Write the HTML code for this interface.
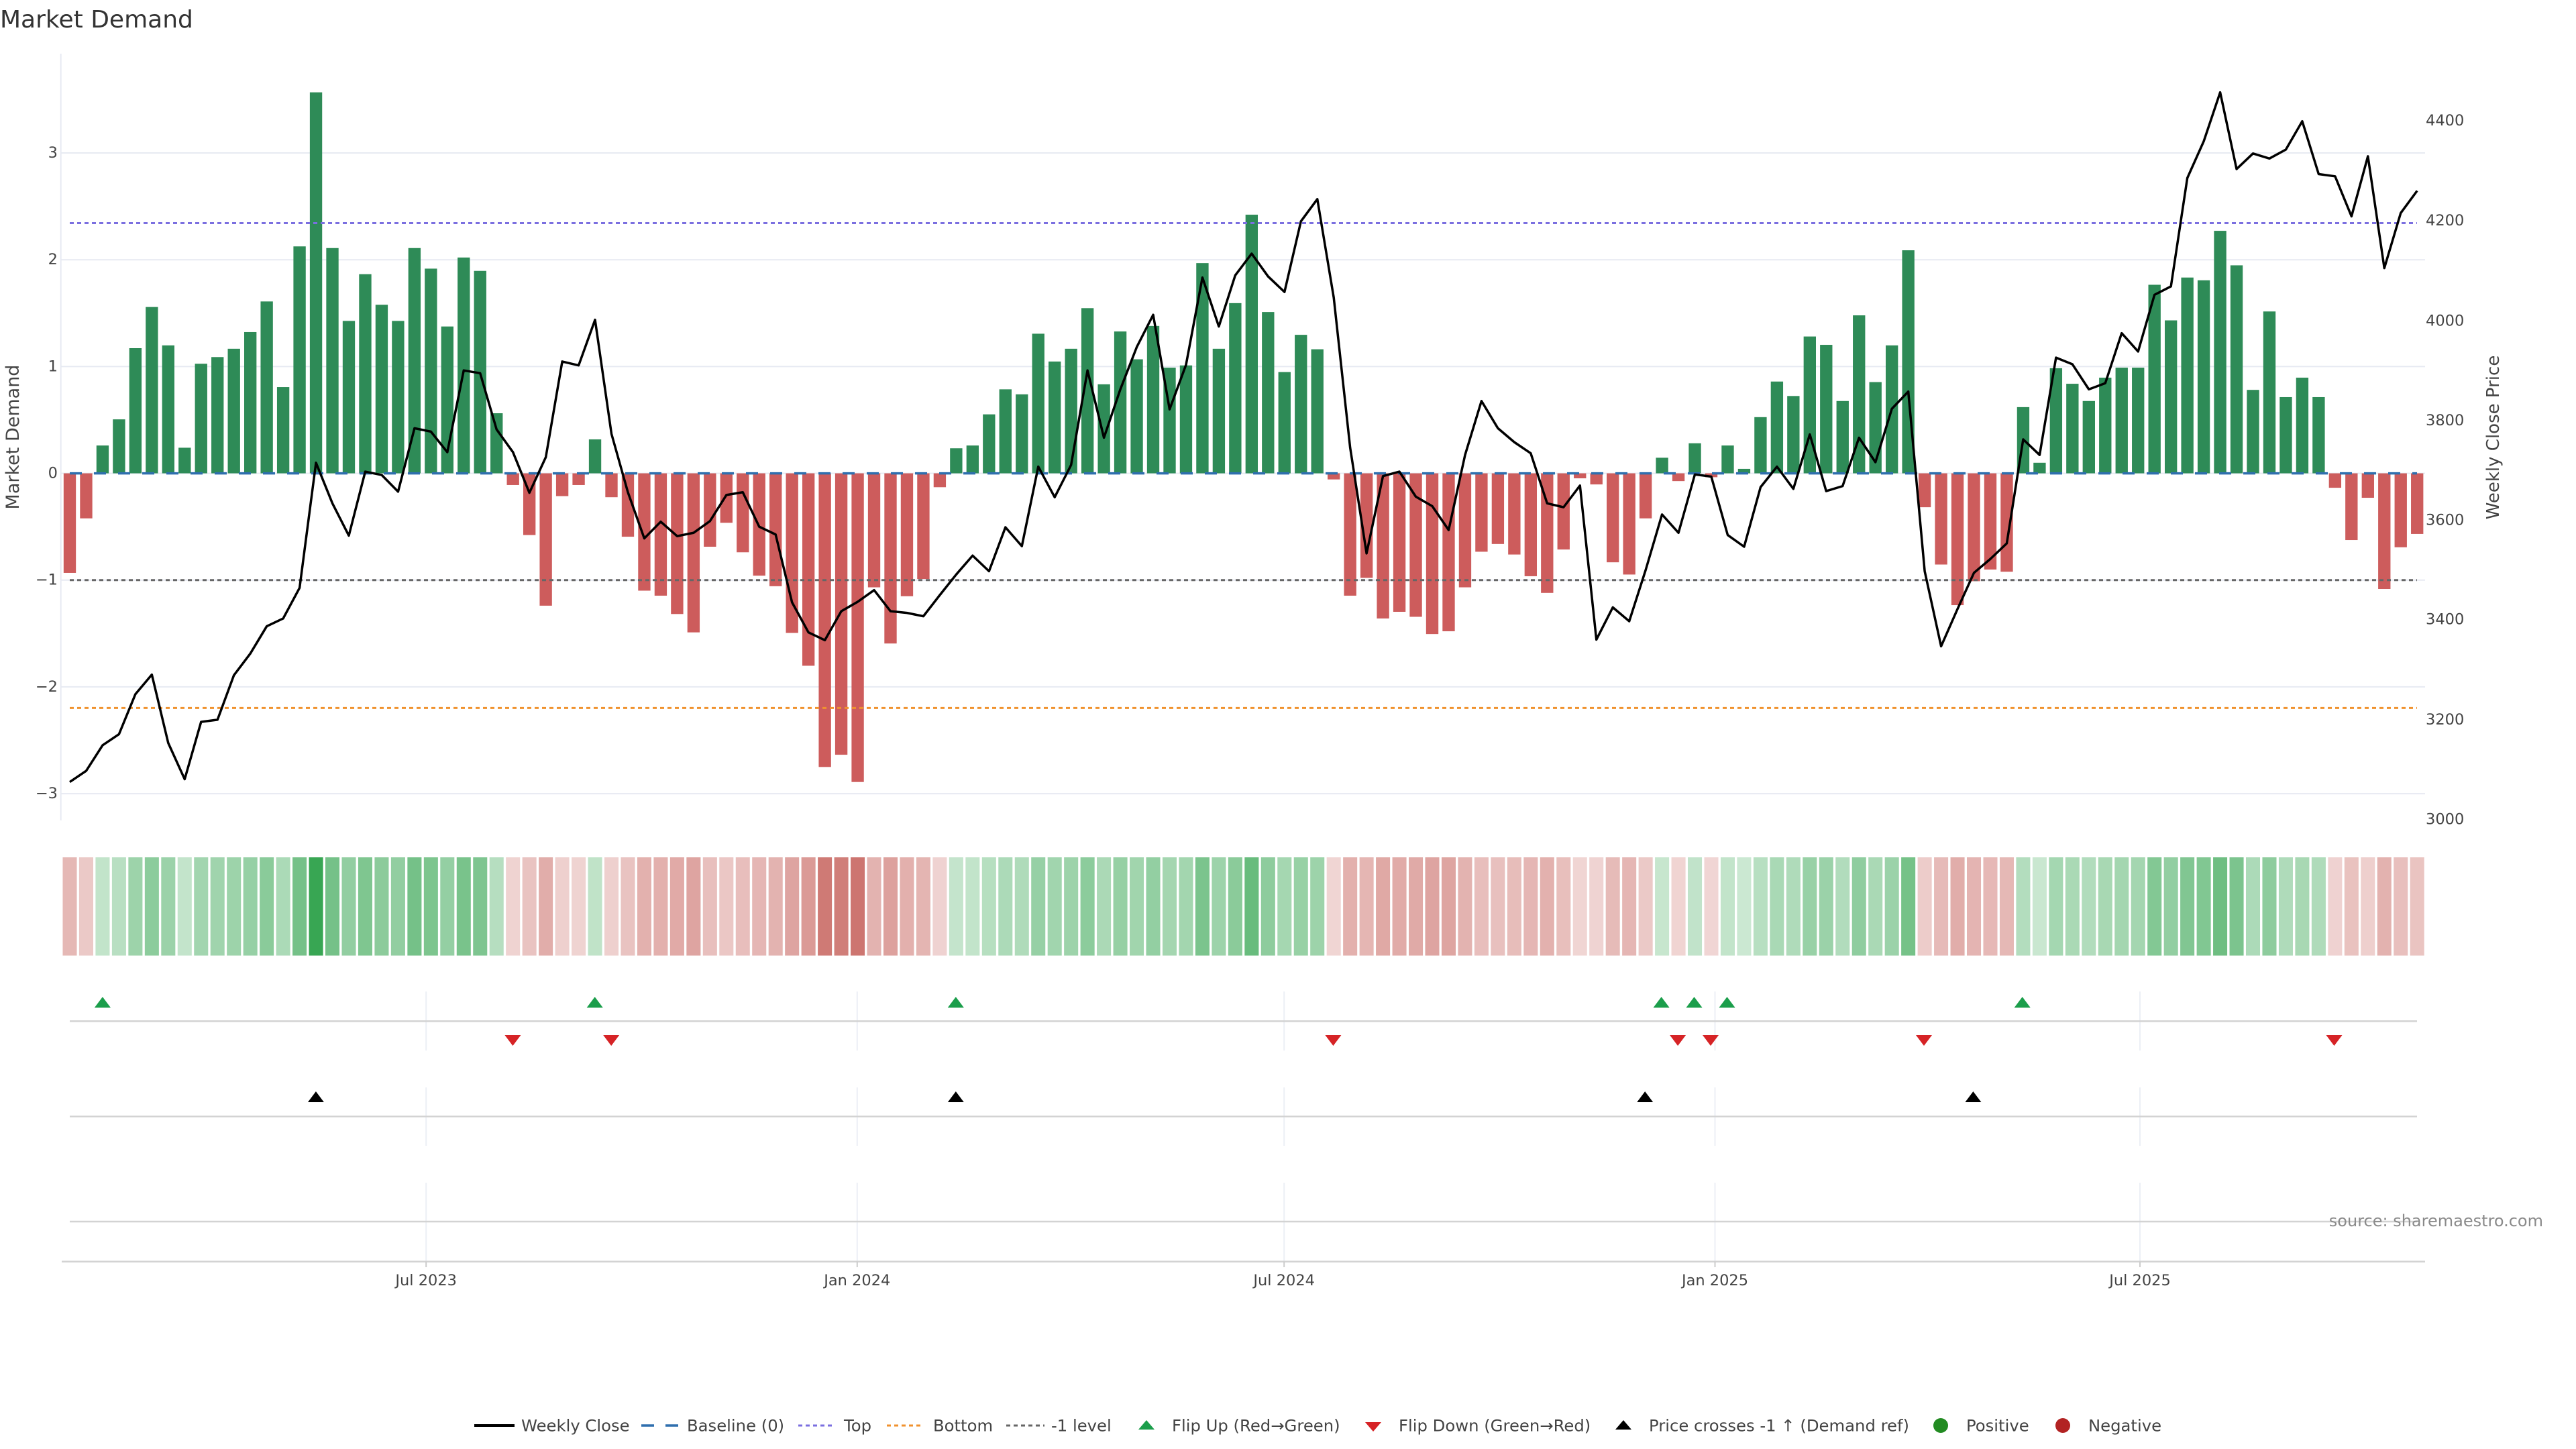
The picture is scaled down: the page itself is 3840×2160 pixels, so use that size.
<!DOCTYPE html>
<html><head><meta charset="utf-8"><style>
html,body{margin:0;padding:0;background:#fff;}
svg{display:block;font-family:"DejaVu Sans","Liberation Sans",sans-serif;}
</style></head><body>
<svg width="3840" height="2160" viewBox="0 0 3840 2160" xmlns="http://www.w3.org/2000/svg">
<rect width="3840" height="2160" fill="#fff"/>
<text x="0" y="41" font-size="36" fill="#333">Market Demand</text>
<g stroke="#e7eaf2" stroke-width="2">
<line x1="91" y1="228" x2="3615" y2="228"/><line x1="91" y1="387.2" x2="3615" y2="387.2"/><line x1="91" y1="546.4" x2="3615" y2="546.4"/><line x1="91" y1="705.6" x2="3615" y2="705.6"/><line x1="91" y1="864.7" x2="3615" y2="864.7"/><line x1="91" y1="1023.9" x2="3615" y2="1023.9"/><line x1="91" y1="1183.1" x2="3615" y2="1183.1"/>
<line x1="90.7" y1="80" x2="90.7" y2="1223"/>
</g>
<g font-size="22.5" fill="#444" text-anchor="end" dominant-baseline="central">
<text x="86" y="228">3</text><text x="86" y="387.2">2</text><text x="86" y="546.4">1</text><text x="86" y="705.6">0</text><text x="86" y="864.7">−1</text><text x="86" y="1023.9">−2</text><text x="86" y="1183.1">−3</text>
</g>
<g font-size="22.5" fill="#444" dominant-baseline="central">
<text x="3616" y="180">4400</text><text x="3616" y="329.2">4200</text><text x="3616" y="478.4">4000</text><text x="3616" y="626.9">3800</text><text x="3616" y="775.3">3600</text><text x="3616" y="923.7">3400</text><text x="3616" y="1073">3200</text><text x="3616" y="1221.4">3000</text>
</g>
<text transform="translate(28,651.5) rotate(-90)" text-anchor="middle" font-size="27" fill="#444">Market Demand</text>
<text transform="translate(3725,652) rotate(-90)" text-anchor="middle" font-size="26" fill="#444">Weekly Close Price</text>
<g transform="translate(104,0) scale(24.47,0.829085)">
<g fill="#2e8b57">
<rect x="1.625" y="801" width="0.75" height="50"/><rect x="2.625" y="754" width="0.75" height="97"/><rect x="3.625" y="626" width="0.75" height="225"/><rect x="4.625" y="552" width="0.75" height="299"/><rect x="5.625" y="621" width="0.75" height="230"/><rect x="6.625" y="805" width="0.75" height="46"/><rect x="7.625" y="654" width="0.75" height="197"/><rect x="8.625" y="642" width="0.75" height="209"/><rect x="9.625" y="627" width="0.75" height="224"/><rect x="10.625" y="597" width="0.75" height="254"/><rect x="11.625" y="542" width="0.75" height="309"/><rect x="12.625" y="696" width="0.75" height="155"/><rect x="13.625" y="443" width="0.75" height="408"/><rect x="14.625" y="166" width="0.75" height="685"/><rect x="15.625" y="446" width="0.75" height="405"/><rect x="16.625" y="577" width="0.75" height="274"/><rect x="17.625" y="493" width="0.75" height="358"/><rect x="18.625" y="548" width="0.75" height="303"/><rect x="19.625" y="577" width="0.75" height="274"/><rect x="20.625" y="446" width="0.75" height="405"/><rect x="21.625" y="483" width="0.75" height="368"/><rect x="22.625" y="587" width="0.75" height="264"/><rect x="23.625" y="463" width="0.75" height="388"/><rect x="24.625" y="487" width="0.75" height="364"/><rect x="25.625" y="743" width="0.75" height="108"/>
<rect x="31.625" y="790" width="0.75" height="61"/>
<rect x="53.625" y="806" width="0.75" height="45"/><rect x="54.625" y="801" width="0.75" height="50"/><rect x="55.625" y="745" width="0.75" height="106"/><rect x="56.625" y="700" width="0.75" height="151"/><rect x="57.625" y="709" width="0.75" height="142"/><rect x="58.625" y="600" width="0.75" height="251"/><rect x="59.625" y="650" width="0.75" height="201"/><rect x="60.625" y="627" width="0.75" height="224"/><rect x="61.625" y="554" width="0.75" height="297"/><rect x="62.625" y="691" width="0.75" height="160"/><rect x="63.625" y="596" width="0.75" height="255"/><rect x="64.625" y="646" width="0.75" height="205"/><rect x="65.625" y="586" width="0.75" height="265"/><rect x="66.625" y="661" width="0.75" height="190"/><rect x="67.625" y="657" width="0.75" height="194"/><rect x="68.625" y="473" width="0.75" height="378"/><rect x="69.625" y="627" width="0.75" height="224"/><rect x="70.625" y="545" width="0.75" height="306"/><rect x="71.625" y="386" width="0.75" height="465"/><rect x="72.625" y="561" width="0.75" height="290"/><rect x="73.625" y="669" width="0.75" height="182"/><rect x="74.625" y="602" width="0.75" height="249"/><rect x="75.625" y="628" width="0.75" height="223"/>
<rect x="96.625" y="823" width="0.75" height="28"/><rect x="98.625" y="797" width="0.75" height="54"/><rect x="100.625" y="801" width="0.75" height="50"/><rect x="101.625" y="843" width="0.75" height="8"/><rect x="102.625" y="750" width="0.75" height="101"/><rect x="103.625" y="686" width="0.75" height="165"/><rect x="104.625" y="712" width="0.75" height="139"/><rect x="105.625" y="605" width="0.75" height="246"/><rect x="106.625" y="620" width="0.75" height="231"/><rect x="107.625" y="721" width="0.75" height="130"/><rect x="108.625" y="567" width="0.75" height="284"/><rect x="109.625" y="687" width="0.75" height="164"/><rect x="110.625" y="621" width="0.75" height="230"/><rect x="111.625" y="450" width="0.75" height="401"/>
<rect x="118.625" y="732" width="0.75" height="119"/><rect x="119.625" y="832" width="0.75" height="19"/><rect x="120.625" y="662" width="0.75" height="189"/><rect x="121.625" y="690" width="0.75" height="161"/><rect x="122.625" y="721" width="0.75" height="130"/><rect x="123.625" y="679" width="0.75" height="172"/><rect x="124.625" y="661" width="0.75" height="190"/><rect x="125.625" y="661" width="0.75" height="190"/><rect x="126.625" y="512" width="0.75" height="339"/><rect x="127.625" y="576" width="0.75" height="275"/><rect x="128.625" y="499" width="0.75" height="352"/><rect x="129.625" y="504" width="0.75" height="347"/><rect x="130.625" y="415" width="0.75" height="436"/><rect x="131.625" y="477" width="0.75" height="374"/><rect x="132.625" y="701" width="0.75" height="150"/><rect x="133.625" y="560" width="0.75" height="291"/><rect x="134.625" y="714" width="0.75" height="137"/><rect x="135.625" y="679" width="0.75" height="172"/><rect x="136.625" y="714" width="0.75" height="137"/>
</g>
<g fill="#cd5c5c">
<rect x="-0.375" y="851" width="0.75" height="179"/><rect x="0.625" y="851" width="0.75" height="81"/>
<rect x="26.625" y="851" width="0.75" height="21"/><rect x="27.625" y="851" width="0.75" height="111"/><rect x="28.625" y="851" width="0.75" height="238"/><rect x="29.625" y="851" width="0.75" height="41"/><rect x="30.625" y="851" width="0.75" height="21"/>
<rect x="32.625" y="851" width="0.75" height="43"/><rect x="33.625" y="851" width="0.75" height="114"/><rect x="34.625" y="851" width="0.75" height="211"/><rect x="35.625" y="851" width="0.75" height="220"/><rect x="36.625" y="851" width="0.75" height="253"/><rect x="37.625" y="851" width="0.75" height="286"/><rect x="38.625" y="851" width="0.75" height="132"/><rect x="39.625" y="851" width="0.75" height="89"/><rect x="40.625" y="851" width="0.75" height="142"/><rect x="41.625" y="851" width="0.75" height="184"/><rect x="42.625" y="851" width="0.75" height="203"/><rect x="43.625" y="851" width="0.75" height="287"/><rect x="44.625" y="851" width="0.75" height="346"/><rect x="45.625" y="851" width="0.75" height="528"/><rect x="46.625" y="851" width="0.75" height="506"/><rect x="47.625" y="851" width="0.75" height="555"/><rect x="48.625" y="851" width="0.75" height="205"/><rect x="49.625" y="851" width="0.75" height="306"/><rect x="50.625" y="851" width="0.75" height="221"/><rect x="51.625" y="851" width="0.75" height="190"/><rect x="52.625" y="851" width="0.75" height="25"/>
<rect x="76.625" y="851" width="0.75" height="11"/><rect x="77.625" y="851" width="0.75" height="220"/><rect x="78.625" y="851" width="0.75" height="188"/><rect x="79.625" y="851" width="0.75" height="261"/><rect x="80.625" y="851" width="0.75" height="249"/><rect x="81.625" y="851" width="0.75" height="258"/><rect x="82.625" y="851" width="0.75" height="289"/><rect x="83.625" y="851" width="0.75" height="284"/><rect x="84.625" y="851" width="0.75" height="205"/><rect x="85.625" y="851" width="0.75" height="141"/><rect x="86.625" y="851" width="0.75" height="127"/><rect x="87.625" y="851" width="0.75" height="146"/><rect x="88.625" y="851" width="0.75" height="185"/><rect x="89.625" y="851" width="0.75" height="215"/><rect x="90.625" y="851" width="0.75" height="137"/><rect x="91.625" y="851" width="0.75" height="9"/><rect x="92.625" y="851" width="0.75" height="20"/><rect x="93.625" y="851" width="0.75" height="160"/><rect x="94.625" y="851" width="0.75" height="182"/><rect x="95.625" y="851" width="0.75" height="81"/>
<rect x="97.625" y="851" width="0.75" height="14"/><rect x="99.625" y="851" width="0.75" height="7"/>
<rect x="112.625" y="851" width="0.75" height="61"/><rect x="113.625" y="851" width="0.75" height="164"/><rect x="114.625" y="851" width="0.75" height="237"/><rect x="115.625" y="851" width="0.75" height="194"/><rect x="116.625" y="851" width="0.75" height="173"/><rect x="117.625" y="851" width="0.75" height="177"/>
<rect x="137.625" y="851" width="0.75" height="26"/><rect x="138.625" y="851" width="0.75" height="120"/><rect x="139.625" y="851" width="0.75" height="44"/><rect x="140.625" y="851" width="0.75" height="208"/><rect x="141.625" y="851" width="0.75" height="133"/><rect x="142.625" y="851" width="0.75" height="109"/>
</g>
</g>
<line x1="104" y1="705.6" x2="3603" y2="705.6" stroke="#2f6fae" stroke-width="3.5" stroke-dasharray="18 18"/>
<line x1="104" y1="332.5" x2="3603" y2="332.5" stroke="#7b6fe0" stroke-width="3" stroke-dasharray="6 5"/>
<line x1="104" y1="864.7" x2="3603" y2="864.7" stroke="#666" stroke-width="3" stroke-dasharray="6 5"/>
<line x1="104" y1="1055.4" x2="3603" y2="1055.4" stroke="#f0922e" stroke-width="3" stroke-dasharray="6 5"/>
<g transform="translate(104,0) scale(24.47,0.829085)">
<polyline fill="none" stroke="#000" stroke-width="3.5" stroke-linejoin="round" vector-effect="non-scaling-stroke" points="0,1406 1,1386 2,1340 3,1320 4,1248 5,1213 6,1336 7,1401 8,1298 9,1294 10,1214 11,1175 12,1126 13,1112 14,1057 15,832 16,905 17,963 18,848 19,854 20,884 21,770 22,776 23,813 24,666 25,671 26,772 27,813 28,886 29,822 30,650 31,657 32,575 33,780 34,885 35,968 36,938 37,964 38,958 39,937 40,890 41,885 42,947 43,961 44,1083 45,1137 46,1151 47,1099 48,1082 49,1061 50,1099 51,1102 52,1108 53,1070 54,1033 55,999 56,1027 57,948 58,982 59,839 60,894 61,836 62,666 63,787 64,700 65,624 66,566 67,736 68,656 69,499 70,587 71,495 72,456 73,497 74,525 75,398 76,358 77,535 78,805 79,995 80,856 81,848 82,893 83,910 84,953 85,818 86,721 87,770 88,795 89,815 90,905 91,912 92,873 93,1150 94,1092 95,1117 96,1025 97,925 98,958 99,853 100,857 101,962 102,983 103,876 104,839 105,879 106,781 107,883 108,874 109,787 110,831 111,735 112,704 113,1027 114,1162 115,1095 116,1030 117,1005 118,977 119,790 120,818 121,643 122,655 123,700 124,689 125,599 126,632 127,530 128,515 129,320 130,254 131,166 132,304 133,276 134,285 135,269 136,218 137,313 138,317 139,389 140,281 141,482 142,383 143,343"/>
</g>
<!-- heatmap -->
<g transform="translate(104,0) scale(24.47,1)">
<g fill="#38a653">
<rect x="1.57" y="1278" width="0.86" height="146.5" fill-opacity="0.305"/><rect x="2.57" y="1278" width="0.86" height="146.5" fill-opacity="0.356"/><rect x="3.57" y="1278" width="0.86" height="146.5" fill-opacity="0.496"/><rect x="4.57" y="1278" width="0.86" height="146.5" fill-opacity="0.578"/><rect x="5.57" y="1278" width="0.86" height="146.5" fill-opacity="0.502"/><rect x="6.57" y="1278" width="0.86" height="146.5" fill-opacity="0.300"/><rect x="7.57" y="1278" width="0.86" height="146.5" fill-opacity="0.466"/><rect x="8.57" y="1278" width="0.86" height="146.5" fill-opacity="0.479"/><rect x="9.57" y="1278" width="0.86" height="146.5" fill-opacity="0.496"/><rect x="10.57" y="1278" width="0.86" height="146.5" fill-opacity="0.527"/><rect x="11.57" y="1278" width="0.86" height="146.5" fill-opacity="0.588"/><rect x="12.57" y="1278" width="0.86" height="146.5" fill-opacity="0.420"/><rect x="13.57" y="1278" width="0.86" height="146.5" fill-opacity="0.696"/><rect x="14.57" y="1278" width="0.86" height="146.5" fill-opacity="1"/><rect x="15.57" y="1278" width="0.86" height="146.5" fill-opacity="0.693"/><rect x="16.57" y="1278" width="0.86" height="146.5" fill-opacity="0.550"/><rect x="17.57" y="1278" width="0.86" height="146.5" fill-opacity="0.642"/><rect x="18.57" y="1278" width="0.86" height="146.5" fill-opacity="0.582"/><rect x="19.57" y="1278" width="0.86" height="146.5" fill-opacity="0.550"/><rect x="20.57" y="1278" width="0.86" height="146.5" fill-opacity="0.693"/><rect x="21.57" y="1278" width="0.86" height="146.5" fill-opacity="0.653"/><rect x="22.57" y="1278" width="0.86" height="146.5" fill-opacity="0.539"/><rect x="23.57" y="1278" width="0.86" height="146.5" fill-opacity="0.674"/><rect x="24.57" y="1278" width="0.86" height="146.5" fill-opacity="0.649"/><rect x="25.57" y="1278" width="0.86" height="146.5" fill-opacity="0.368"/>
<rect x="31.57" y="1278" width="0.86" height="146.5" fill-opacity="0.317"/>
<rect x="53.57" y="1278" width="0.86" height="146.5" fill-opacity="0.298"/><rect x="54.57" y="1278" width="0.86" height="146.5" fill-opacity="0.305"/><rect x="55.57" y="1278" width="0.86" height="146.5" fill-opacity="0.366"/><rect x="56.57" y="1278" width="0.86" height="146.5" fill-opacity="0.416"/><rect x="57.57" y="1278" width="0.86" height="146.5" fill-opacity="0.405"/><rect x="58.57" y="1278" width="0.86" height="146.5" fill-opacity="0.525"/><rect x="59.57" y="1278" width="0.86" height="146.5" fill-opacity="0.471"/><rect x="60.57" y="1278" width="0.86" height="146.5" fill-opacity="0.496"/><rect x="61.57" y="1278" width="0.86" height="146.5" fill-opacity="0.576"/><rect x="62.57" y="1278" width="0.86" height="146.5" fill-opacity="0.424"/><rect x="63.57" y="1278" width="0.86" height="146.5" fill-opacity="0.529"/><rect x="64.57" y="1278" width="0.86" height="146.5" fill-opacity="0.475"/><rect x="65.57" y="1278" width="0.86" height="146.5" fill-opacity="0.540"/><rect x="66.57" y="1278" width="0.86" height="146.5" fill-opacity="0.458"/><rect x="67.57" y="1278" width="0.86" height="146.5" fill-opacity="0.462"/><rect x="68.57" y="1278" width="0.86" height="146.5" fill-opacity="0.664"/><rect x="69.57" y="1278" width="0.86" height="146.5" fill-opacity="0.496"/><rect x="70.57" y="1278" width="0.86" height="146.5" fill-opacity="0.584"/><rect x="71.57" y="1278" width="0.86" height="146.5" fill-opacity="0.758"/><rect x="72.57" y="1278" width="0.86" height="146.5" fill-opacity="0.567"/><rect x="73.57" y="1278" width="0.86" height="146.5" fill-opacity="0.450"/><rect x="74.57" y="1278" width="0.86" height="146.5" fill-opacity="0.523"/><rect x="75.57" y="1278" width="0.86" height="146.5" fill-opacity="0.494"/>
<rect x="96.57" y="1278" width="0.86" height="146.5" fill-opacity="0.282"/><rect x="98.57" y="1278" width="0.86" height="146.5" fill-opacity="0.309"/><rect x="100.57" y="1278" width="0.86" height="146.5" fill-opacity="0.305"/><rect x="101.57" y="1278" width="0.86" height="146.5" fill-opacity="0.258"/><rect x="102.57" y="1278" width="0.86" height="146.5" fill-opacity="0.361"/><rect x="103.57" y="1278" width="0.86" height="146.5" fill-opacity="0.431"/><rect x="104.57" y="1278" width="0.86" height="146.5" fill-opacity="0.401"/><rect x="105.57" y="1278" width="0.86" height="146.5" fill-opacity="0.519"/><rect x="106.57" y="1278" width="0.86" height="146.5" fill-opacity="0.502"/><rect x="107.57" y="1278" width="0.86" height="146.5" fill-opacity="0.393"/><rect x="108.57" y="1278" width="0.86" height="146.5" fill-opacity="0.561"/><rect x="109.57" y="1278" width="0.86" height="146.5" fill-opacity="0.429"/><rect x="110.57" y="1278" width="0.86" height="146.5" fill-opacity="0.502"/><rect x="111.57" y="1278" width="0.86" height="146.5" fill-opacity="0.689"/>
<rect x="118.57" y="1278" width="0.86" height="146.5" fill-opacity="0.380"/><rect x="119.57" y="1278" width="0.86" height="146.5" fill-opacity="0.271"/><rect x="120.57" y="1278" width="0.86" height="146.5" fill-opacity="0.456"/><rect x="121.57" y="1278" width="0.86" height="146.5" fill-opacity="0.426"/><rect x="122.57" y="1278" width="0.86" height="146.5" fill-opacity="0.393"/><rect x="123.57" y="1278" width="0.86" height="146.5" fill-opacity="0.439"/><rect x="124.57" y="1278" width="0.86" height="146.5" fill-opacity="0.458"/><rect x="125.57" y="1278" width="0.86" height="146.5" fill-opacity="0.458"/><rect x="126.57" y="1278" width="0.86" height="146.5" fill-opacity="0.622"/><rect x="127.57" y="1278" width="0.86" height="146.5" fill-opacity="0.550"/><rect x="128.57" y="1278" width="0.86" height="146.5" fill-opacity="0.634"/><rect x="129.57" y="1278" width="0.86" height="146.5" fill-opacity="0.630"/><rect x="130.57" y="1278" width="0.86" height="146.5" fill-opacity="0.727"/><rect x="131.57" y="1278" width="0.86" height="146.5" fill-opacity="0.660"/><rect x="132.57" y="1278" width="0.86" height="146.5" fill-opacity="0.414"/><rect x="133.57" y="1278" width="0.86" height="146.5" fill-opacity="0.569"/><rect x="134.57" y="1278" width="0.86" height="146.5" fill-opacity="0.399"/><rect x="135.57" y="1278" width="0.86" height="146.5" fill-opacity="0.439"/><rect x="136.57" y="1278" width="0.86" height="146.5" fill-opacity="0.399"/>
</g>
<g fill="#c55e58">
<rect x="-0.43" y="1278" width="0.86" height="146.5" fill-opacity="0.445"/><rect x="0.57" y="1278" width="0.86" height="146.5" fill-opacity="0.338"/>
<rect x="26.57" y="1278" width="0.86" height="146.5" fill-opacity="0.273"/><rect x="27.57" y="1278" width="0.86" height="146.5" fill-opacity="0.372"/><rect x="28.57" y="1278" width="0.86" height="146.5" fill-opacity="0.510"/><rect x="29.57" y="1278" width="0.86" height="146.5" fill-opacity="0.294"/><rect x="30.57" y="1278" width="0.86" height="146.5" fill-opacity="0.273"/>
<rect x="32.57" y="1278" width="0.86" height="146.5" fill-opacity="0.296"/><rect x="33.57" y="1278" width="0.86" height="146.5" fill-opacity="0.374"/><rect x="34.57" y="1278" width="0.86" height="146.5" fill-opacity="0.481"/><rect x="35.57" y="1278" width="0.86" height="146.5" fill-opacity="0.492"/><rect x="36.57" y="1278" width="0.86" height="146.5" fill-opacity="0.527"/><rect x="37.57" y="1278" width="0.86" height="146.5" fill-opacity="0.563"/><rect x="38.57" y="1278" width="0.86" height="146.5" fill-opacity="0.395"/><rect x="39.57" y="1278" width="0.86" height="146.5" fill-opacity="0.347"/><rect x="40.57" y="1278" width="0.86" height="146.5" fill-opacity="0.405"/><rect x="41.57" y="1278" width="0.86" height="146.5" fill-opacity="0.452"/><rect x="42.57" y="1278" width="0.86" height="146.5" fill-opacity="0.473"/><rect x="43.57" y="1278" width="0.86" height="146.5" fill-opacity="0.564"/><rect x="44.57" y="1278" width="0.86" height="146.5" fill-opacity="0.628"/><rect x="45.57" y="1278" width="0.86" height="146.5" fill-opacity="0.828"/><rect x="46.57" y="1278" width="0.86" height="146.5" fill-opacity="0.803"/><rect x="47.57" y="1278" width="0.86" height="146.5" fill-opacity="0.857"/><rect x="48.57" y="1278" width="0.86" height="146.5" fill-opacity="0.475"/><rect x="49.57" y="1278" width="0.86" height="146.5" fill-opacity="0.584"/><rect x="50.57" y="1278" width="0.86" height="146.5" fill-opacity="0.492"/><rect x="51.57" y="1278" width="0.86" height="146.5" fill-opacity="0.458"/><rect x="52.57" y="1278" width="0.86" height="146.5" fill-opacity="0.277"/>
<rect x="76.57" y="1278" width="0.86" height="146.5" fill-opacity="0.263"/><rect x="77.57" y="1278" width="0.86" height="146.5" fill-opacity="0.492"/><rect x="78.57" y="1278" width="0.86" height="146.5" fill-opacity="0.456"/><rect x="79.57" y="1278" width="0.86" height="146.5" fill-opacity="0.536"/><rect x="80.57" y="1278" width="0.86" height="146.5" fill-opacity="0.523"/><rect x="81.57" y="1278" width="0.86" height="146.5" fill-opacity="0.531"/><rect x="82.57" y="1278" width="0.86" height="146.5" fill-opacity="0.566"/><rect x="83.57" y="1278" width="0.86" height="146.5" fill-opacity="0.561"/><rect x="84.57" y="1278" width="0.86" height="146.5" fill-opacity="0.475"/><rect x="85.57" y="1278" width="0.86" height="146.5" fill-opacity="0.403"/><rect x="86.57" y="1278" width="0.86" height="146.5" fill-opacity="0.389"/><rect x="87.57" y="1278" width="0.86" height="146.5" fill-opacity="0.410"/><rect x="88.57" y="1278" width="0.86" height="146.5" fill-opacity="0.452"/><rect x="89.57" y="1278" width="0.86" height="146.5" fill-opacity="0.485"/><rect x="90.57" y="1278" width="0.86" height="146.5" fill-opacity="0.399"/><rect x="91.57" y="1278" width="0.86" height="146.5" fill-opacity="0.261"/><rect x="92.57" y="1278" width="0.86" height="146.5" fill-opacity="0.271"/><rect x="93.57" y="1278" width="0.86" height="146.5" fill-opacity="0.424"/><rect x="94.57" y="1278" width="0.86" height="146.5" fill-opacity="0.450"/><rect x="95.57" y="1278" width="0.86" height="146.5" fill-opacity="0.338"/>
<rect x="97.57" y="1278" width="0.86" height="146.5" fill-opacity="0.265"/><rect x="99.57" y="1278" width="0.86" height="146.5" fill-opacity="0.258"/>
<rect x="112.57" y="1278" width="0.86" height="146.5" fill-opacity="0.317"/><rect x="113.57" y="1278" width="0.86" height="146.5" fill-opacity="0.429"/><rect x="114.57" y="1278" width="0.86" height="146.5" fill-opacity="0.508"/><rect x="115.57" y="1278" width="0.86" height="146.5" fill-opacity="0.462"/><rect x="116.57" y="1278" width="0.86" height="146.5" fill-opacity="0.439"/><rect x="117.57" y="1278" width="0.86" height="146.5" fill-opacity="0.443"/>
<rect x="137.57" y="1278" width="0.86" height="146.5" fill-opacity="0.278"/><rect x="138.57" y="1278" width="0.86" height="146.5" fill-opacity="0.381"/><rect x="139.57" y="1278" width="0.86" height="146.5" fill-opacity="0.298"/><rect x="140.57" y="1278" width="0.86" height="146.5" fill-opacity="0.477"/><rect x="141.57" y="1278" width="0.86" height="146.5" fill-opacity="0.395"/><rect x="142.57" y="1278" width="0.86" height="146.5" fill-opacity="0.370"/>
</g>
</g>
<!-- marker rows -->
<g stroke="#eceff5" stroke-width="2">
<line x1="635.2" y1="1478" x2="635.2" y2="1566"/><line x1="1277.8" y1="1478" x2="1277.8" y2="1566"/><line x1="1914.2" y1="1478" x2="1914.2" y2="1566"/><line x1="2556.5" y1="1478" x2="2556.5" y2="1566"/><line x1="3190" y1="1478" x2="3190" y2="1566"/>
<line x1="635.2" y1="1621" x2="635.2" y2="1708"/><line x1="1277.8" y1="1621" x2="1277.8" y2="1708"/><line x1="1914.2" y1="1621" x2="1914.2" y2="1708"/><line x1="2556.5" y1="1621" x2="2556.5" y2="1708"/><line x1="3190" y1="1621" x2="3190" y2="1708"/>
<line x1="635.2" y1="1763" x2="635.2" y2="1880"/><line x1="1277.8" y1="1763" x2="1277.8" y2="1880"/><line x1="1914.2" y1="1763" x2="1914.2" y2="1880"/><line x1="2556.5" y1="1763" x2="2556.5" y2="1880"/><line x1="3190" y1="1763" x2="3190" y2="1880"/>
</g>
<g stroke="#d3d3d3" stroke-width="2.5">
<line x1="104" y1="1522.3" x2="3603" y2="1522.3"/>
<line x1="104" y1="1664.3" x2="3603" y2="1664.3"/>
<line x1="104" y1="1821" x2="3603" y2="1821"/>
<line x1="92" y1="1880.6" x2="3615" y2="1880.6"/>
</g>
<g stroke="#cccccc" stroke-width="2">
<line x1="635.2" y1="1880.6" x2="635.2" y2="1889"/><line x1="1277.8" y1="1880.6" x2="1277.8" y2="1889"/><line x1="1914.2" y1="1880.6" x2="1914.2" y2="1889"/><line x1="2556.5" y1="1880.6" x2="2556.5" y2="1889"/><line x1="3190" y1="1880.6" x2="3190" y2="1889"/>
</g>
<g fill="#1b9e4b">
<polygon points="140.9,1502 164.9,1502 152.9,1486"/><polygon points="874.7,1502 898.7,1502 886.7,1486"/><polygon points="1412.8,1502 1436.8,1502 1424.8,1486"/><polygon points="2464.6,1502 2488.6,1502 2476.6,1486"/><polygon points="2513.5,1502 2537.5,1502 2525.5,1486"/><polygon points="2562.5,1502 2586.5,1502 2574.5,1486"/><polygon points="3002.7,1502 3026.7,1502 3014.7,1486"/>
</g>
<g fill="#d62326">
<polygon points="752.4,1543 776.4,1543 764.4,1559"/><polygon points="899.2,1543 923.2,1543 911.2,1559"/><polygon points="1975.4,1543 1999.4,1543 1987.4,1559"/><polygon points="2489.1,1543 2513.1,1543 2501.1,1559"/><polygon points="2538,1543 2562,1543 2550,1559"/><polygon points="2856,1543 2880,1543 2868,1559"/><polygon points="3467.5,1543 3491.5,1543 3479.5,1559"/>
</g>
<g fill="#000">
<polygon points="458.9,1643 482.9,1643 470.9,1627"/><polygon points="1412.8,1643 1436.8,1643 1424.8,1627"/><polygon points="2440.2,1643 2464.2,1643 2452.2,1627"/><polygon points="2929.4,1643 2953.4,1643 2941.4,1627"/>
</g>
<g font-size="22.5" fill="#444" text-anchor="middle">
<text x="635.2" y="1916">Jul 2023</text><text x="1277.8" y="1916">Jan 2024</text><text x="1914.2" y="1916">Jul 2024</text><text x="2556.5" y="1916">Jan 2025</text><text x="3190" y="1916">Jul 2025</text>
</g>
<text x="3791" y="1820" font-size="24" fill="#8a8a8a" text-anchor="end" dominant-baseline="central">source: sharemaestro.com</text>
<!-- legend -->
<g font-size="24.3" fill="#444" dominant-baseline="central">
<line x1="707" y1="2125" x2="767" y2="2125" stroke="#000" stroke-width="4"/>
<text x="777" y="2125">Weekly Close</text>
<line x1="956" y1="2125" x2="1012" y2="2125" stroke="#2f6fae" stroke-width="3.5" stroke-dasharray="19 17"/>
<text x="1024" y="2125">Baseline (0)</text>
<line x1="1190" y1="2125" x2="1244" y2="2125" stroke="#7b6fe0" stroke-width="3" stroke-dasharray="6 5"/>
<text x="1258" y="2125">Top</text>
<line x1="1322" y1="2125" x2="1376" y2="2125" stroke="#f0922e" stroke-width="3" stroke-dasharray="6 5"/>
<text x="1391" y="2125">Bottom</text>
<line x1="1500" y1="2125" x2="1557" y2="2125" stroke="#666" stroke-width="3" stroke-dasharray="6 5"/>
<text x="1567" y="2125">-1 level</text>
<polygon points="1697,2131 1721,2131 1709,2117" fill="#1b9e4b"/>
<text x="1747" y="2125">Flip Up (Red→Green)</text>
<polygon points="2035,2120 2059,2120 2047,2134" fill="#d62326"/>
<text x="2085" y="2125">Flip Down (Green→Red)</text>
<polygon points="2408,2131 2432,2131 2420,2117" fill="#000"/>
<text x="2458" y="2125">Price crosses -1 ↑ (Demand ref)</text>
<circle cx="2893" cy="2125" r="11" fill="#228b22"/>
<text x="2931" y="2125">Positive</text>
<circle cx="3075" cy="2125" r="11" fill="#b22222"/>
<text x="3113" y="2125">Negative</text>
</g>
</svg>
</body></html>
